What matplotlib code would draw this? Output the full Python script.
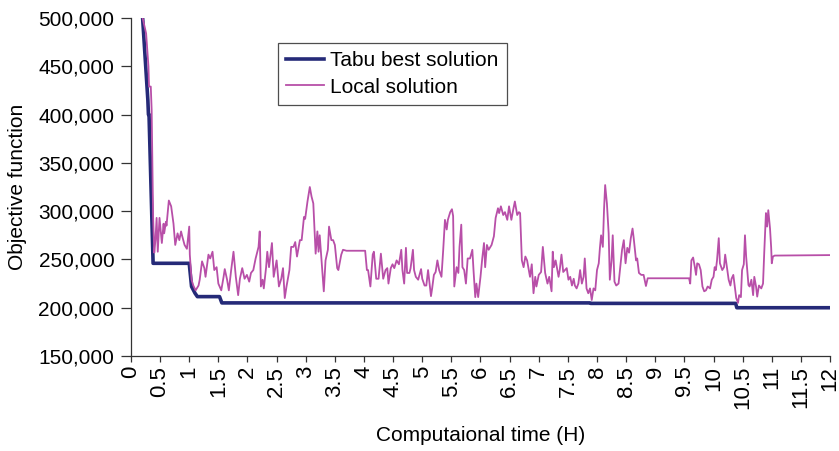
import matplotlib
matplotlib.use("Agg")
import matplotlib.pyplot as plt
from matplotlib.ticker import FuncFormatter, MultipleLocator

plt.rcParams['font.family'] = ['Liberation Sans', 'DejaVu Sans']

# time in hours, objective values in thousands
tabu_t = [0.20, 0.29, 0.30, 0.31, 0.38, 1.00, 1.04, 1.10, 1.14, 1.52, 1.56,
          7.88, 7.89, 10.38, 10.40, 12.0]
tabu_v = [500, 415, 400, 400, 246, 246, 222, 215, 211.5, 211.5, 205,
          205, 204.5, 204.5, 200, 200]

local_t = [0.20, 0.26, 0.30, 0.31, 0.34, 0.355, 0.38, 0.40, 0.42, 0.44, 0.46, 0.49,
           0.53, 0.56, 0.57, 0.60, 0.61, 0.65, 0.69, 0.73, 0.76, 0.80, 0.83, 0.86,
           0.88, 0.92, 0.96, 1.00, 1.01, 1.04, 1.07, 1.11, 1.16, 1.18, 1.22, 1.26,
           1.28, 1.33, 1.36, 1.40, 1.43, 1.47, 1.50, 1.55, 1.59, 1.61, 1.65, 1.68,
           1.72, 1.76, 1.80, 1.84, 1.87, 1.91, 1.95, 1.99, 2.03, 2.06, 2.10, 2.14,
           2.19, 2.21, 2.23, 2.26, 2.28, 2.32, 2.34, 2.37, 2.42, 2.45, 2.50, 2.54,
           2.58, 2.61, 2.64, 2.67, 2.72, 2.75, 2.79, 2.82, 2.85, 2.90, 2.93, 2.97,
           2.99, 3.03, 3.07, 3.10, 3.13, 3.17, 3.20, 3.22, 3.24, 3.28, 3.31, 3.34,
           3.38, 3.40, 3.44, 3.47, 3.50, 3.54, 3.56, 3.61, 3.64, 3.70, 4.02, 4.05,
           4.07, 4.11, 4.15, 4.17, 4.21, 4.25, 4.29, 4.33, 4.37, 4.40, 4.42, 4.46,
           4.49, 4.52, 4.56, 4.60, 4.64, 4.66, 4.69, 4.72, 4.74, 4.78, 4.80, 4.84,
           4.86, 4.89, 4.93, 4.98, 5.00, 5.04, 5.07, 5.10, 5.15, 5.17, 5.20, 5.23,
           5.26, 5.29, 5.33, 5.36, 5.39, 5.42, 5.44, 5.48, 5.51, 5.53, 5.55, 5.59,
           5.62, 5.64, 5.67, 5.69, 5.72, 5.75, 5.78, 5.82, 5.86, 5.88, 5.91, 5.93,
           5.96, 6.00, 6.03, 6.06, 6.08, 6.11, 6.14, 6.19, 6.23, 6.26, 6.30, 6.32,
           6.35, 6.39, 6.42, 6.46, 6.49, 6.53, 6.56, 6.59, 6.63, 6.66, 6.68, 6.71,
           6.74, 6.77, 6.80, 6.85, 6.88, 6.91, 6.94, 6.96, 7.00, 7.04, 7.07, 7.11,
           7.15, 7.18, 7.22, 7.24, 7.26, 7.29, 7.34, 7.36, 7.39, 7.42, 7.45, 7.48,
           7.51, 7.54, 7.57, 7.60, 7.62, 7.65, 7.68, 7.71, 7.74, 7.77, 7.79, 7.82,
           7.85, 7.88, 7.91, 7.94, 7.97, 8.00, 8.03, 8.05, 8.07, 8.10, 8.12, 8.14,
           8.17, 8.20, 8.22, 8.25, 8.27, 8.30, 8.33, 8.37, 8.40, 8.43, 8.46, 8.49,
           8.52, 8.55, 8.58, 8.61, 8.63, 8.67, 8.69, 8.72, 8.76, 8.80, 8.84, 8.87,
           9.58, 9.60, 9.62, 9.65, 9.68, 9.70, 9.72, 9.75, 9.78, 9.81, 9.84, 9.87,
           9.90, 9.94, 9.97, 10.00, 10.02, 10.04, 10.06, 10.09, 10.11, 10.15, 10.18,
           10.20, 10.23, 10.26, 10.29, 10.31, 10.34, 10.37, 10.39, 10.42, 10.44,
           10.47, 10.49, 10.52, 10.54, 10.56, 10.60, 10.62, 10.65, 10.68, 10.70,
           10.73, 10.75, 10.78, 10.82, 10.85, 10.87, 10.90, 10.92, 10.94, 10.97,
           10.99, 11.00, 11.02, 11.05, 12.00]
local_v = [500, 484, 450, 429, 429, 405, 294, 257, 270, 293, 258, 293,
           267, 287, 277, 289, 285, 311, 305, 287, 265, 277, 270, 279,
           274, 265, 261, 284, 255, 229, 223, 218, 223, 229, 248, 241,
           232, 255, 251, 258, 239, 242, 225, 218, 232, 240, 229, 218,
           239, 258, 232, 213, 230, 241, 230, 234, 227, 236, 239, 251,
           263, 279, 222, 229, 220, 242, 258, 242, 267, 232, 249, 222,
           230, 241, 210, 222, 239, 263, 263, 268, 253, 270, 270, 294,
           292, 310, 325, 315, 308, 256, 279, 258, 275, 241, 217, 249,
           260, 284, 270, 270, 265, 241, 239, 255, 260, 259, 259, 239,
           239, 222, 255, 258, 230, 230, 256, 230, 239, 241, 225, 241,
           245, 241, 249, 245, 260, 239, 225, 262, 236, 236, 241, 260,
           239, 232, 229, 240, 230, 223, 223, 239, 212, 220, 234, 237,
           249, 239, 232, 260, 291, 281, 291, 299, 302, 295, 222, 242,
           236, 263, 286, 242, 239, 225, 251, 251, 260, 239, 211, 225,
           211, 232, 251, 267, 242, 265, 260, 265, 274, 293, 303, 298,
           305, 296, 299, 291, 305, 291, 301, 310, 296, 299, 298, 249,
           242, 253, 249, 232, 245, 215, 232, 222, 234, 237, 263, 236,
           225, 232, 217, 258, 242, 249, 232, 239, 255, 237, 239, 241,
           229, 232, 223, 230, 223, 220, 225, 239, 225, 232, 251, 220,
           215, 220, 208, 220, 218, 239, 246, 262, 275, 263, 301, 327,
           308, 277, 229, 249, 275, 227, 223, 225, 242, 260, 270, 246,
           262, 257, 272, 282, 272, 249, 251, 236, 234, 234, 222.5, 230.5,
           230.5, 225, 249, 252, 242, 234, 246, 245, 239, 222, 217, 218,
           222, 220, 229, 232, 242, 239, 249, 272, 246, 239, 242,
           255, 242, 229, 223, 230, 234, 220, 210, 205, 213,
           211, 239, 245, 275, 253, 223.5, 222, 229, 213, 232,
           222, 211.5, 223, 220, 225, 256, 298, 284, 301, 282,
           262, 246, 253, 254, 254.5]

x_ticks = [i * 0.5 for i in range(25)]
x_labels = ['%g' % x for x in x_ticks]

fig = plt.figure(figsize=(8.39, 4.51), dpi=100)
ax = fig.add_axes([0.1561, 0.2106, 0.8332, 0.7495])

ax.plot(tabu_t, [v * 1000 for v in tabu_v], color='#252a78', lw=2.6,
        label='Tabu best solution', zorder=2)
ax.plot(local_t, [v * 1000 for v in local_v], color='#b84fa8', lw=1.3,
        label='Local solution', zorder=3)

ax.set_xlim(0, 12)
ax.set_ylim(150000, 500000)
ax.yaxis.set_major_locator(MultipleLocator(50000))
ax.yaxis.set_major_formatter(FuncFormatter(lambda v, p: '{:,.0f}'.format(v)))
ax.set_xticks(x_ticks)
ax.set_xticklabels(x_labels, rotation=90)

ax.spines['top'].set_visible(False)
ax.spines['right'].set_visible(False)
for s in ['left', 'bottom']:
    ax.spines[s].set_color('#333333')
    ax.spines[s].set_linewidth(0.9)

ax.tick_params(axis='y', direction='out', length=7, width=0.9, color='#333333',
               labelsize=15, pad=5)
ax.tick_params(axis='x', direction='out', length=4, width=0.9, color='#333333',
               labelsize=16, pad=3)

ax.set_xlabel('Computaional time (H)', fontsize=15, labelpad=12)
ax.set_ylabel('Objective function', fontsize=15, labelpad=8)

leg = ax.legend(loc='upper left', bbox_to_anchor=(0.2103, 0.926), borderaxespad=0,
                fontsize=15, frameon=True, fancybox=False, handlelength=1.8,
                handletextpad=0.3, labelspacing=0.35, borderpad=0.4)
leg.get_frame().set_edgecolor('#222222')
leg.get_frame().set_linewidth(0.9)

fig.savefig('out.png', dpi=100)
